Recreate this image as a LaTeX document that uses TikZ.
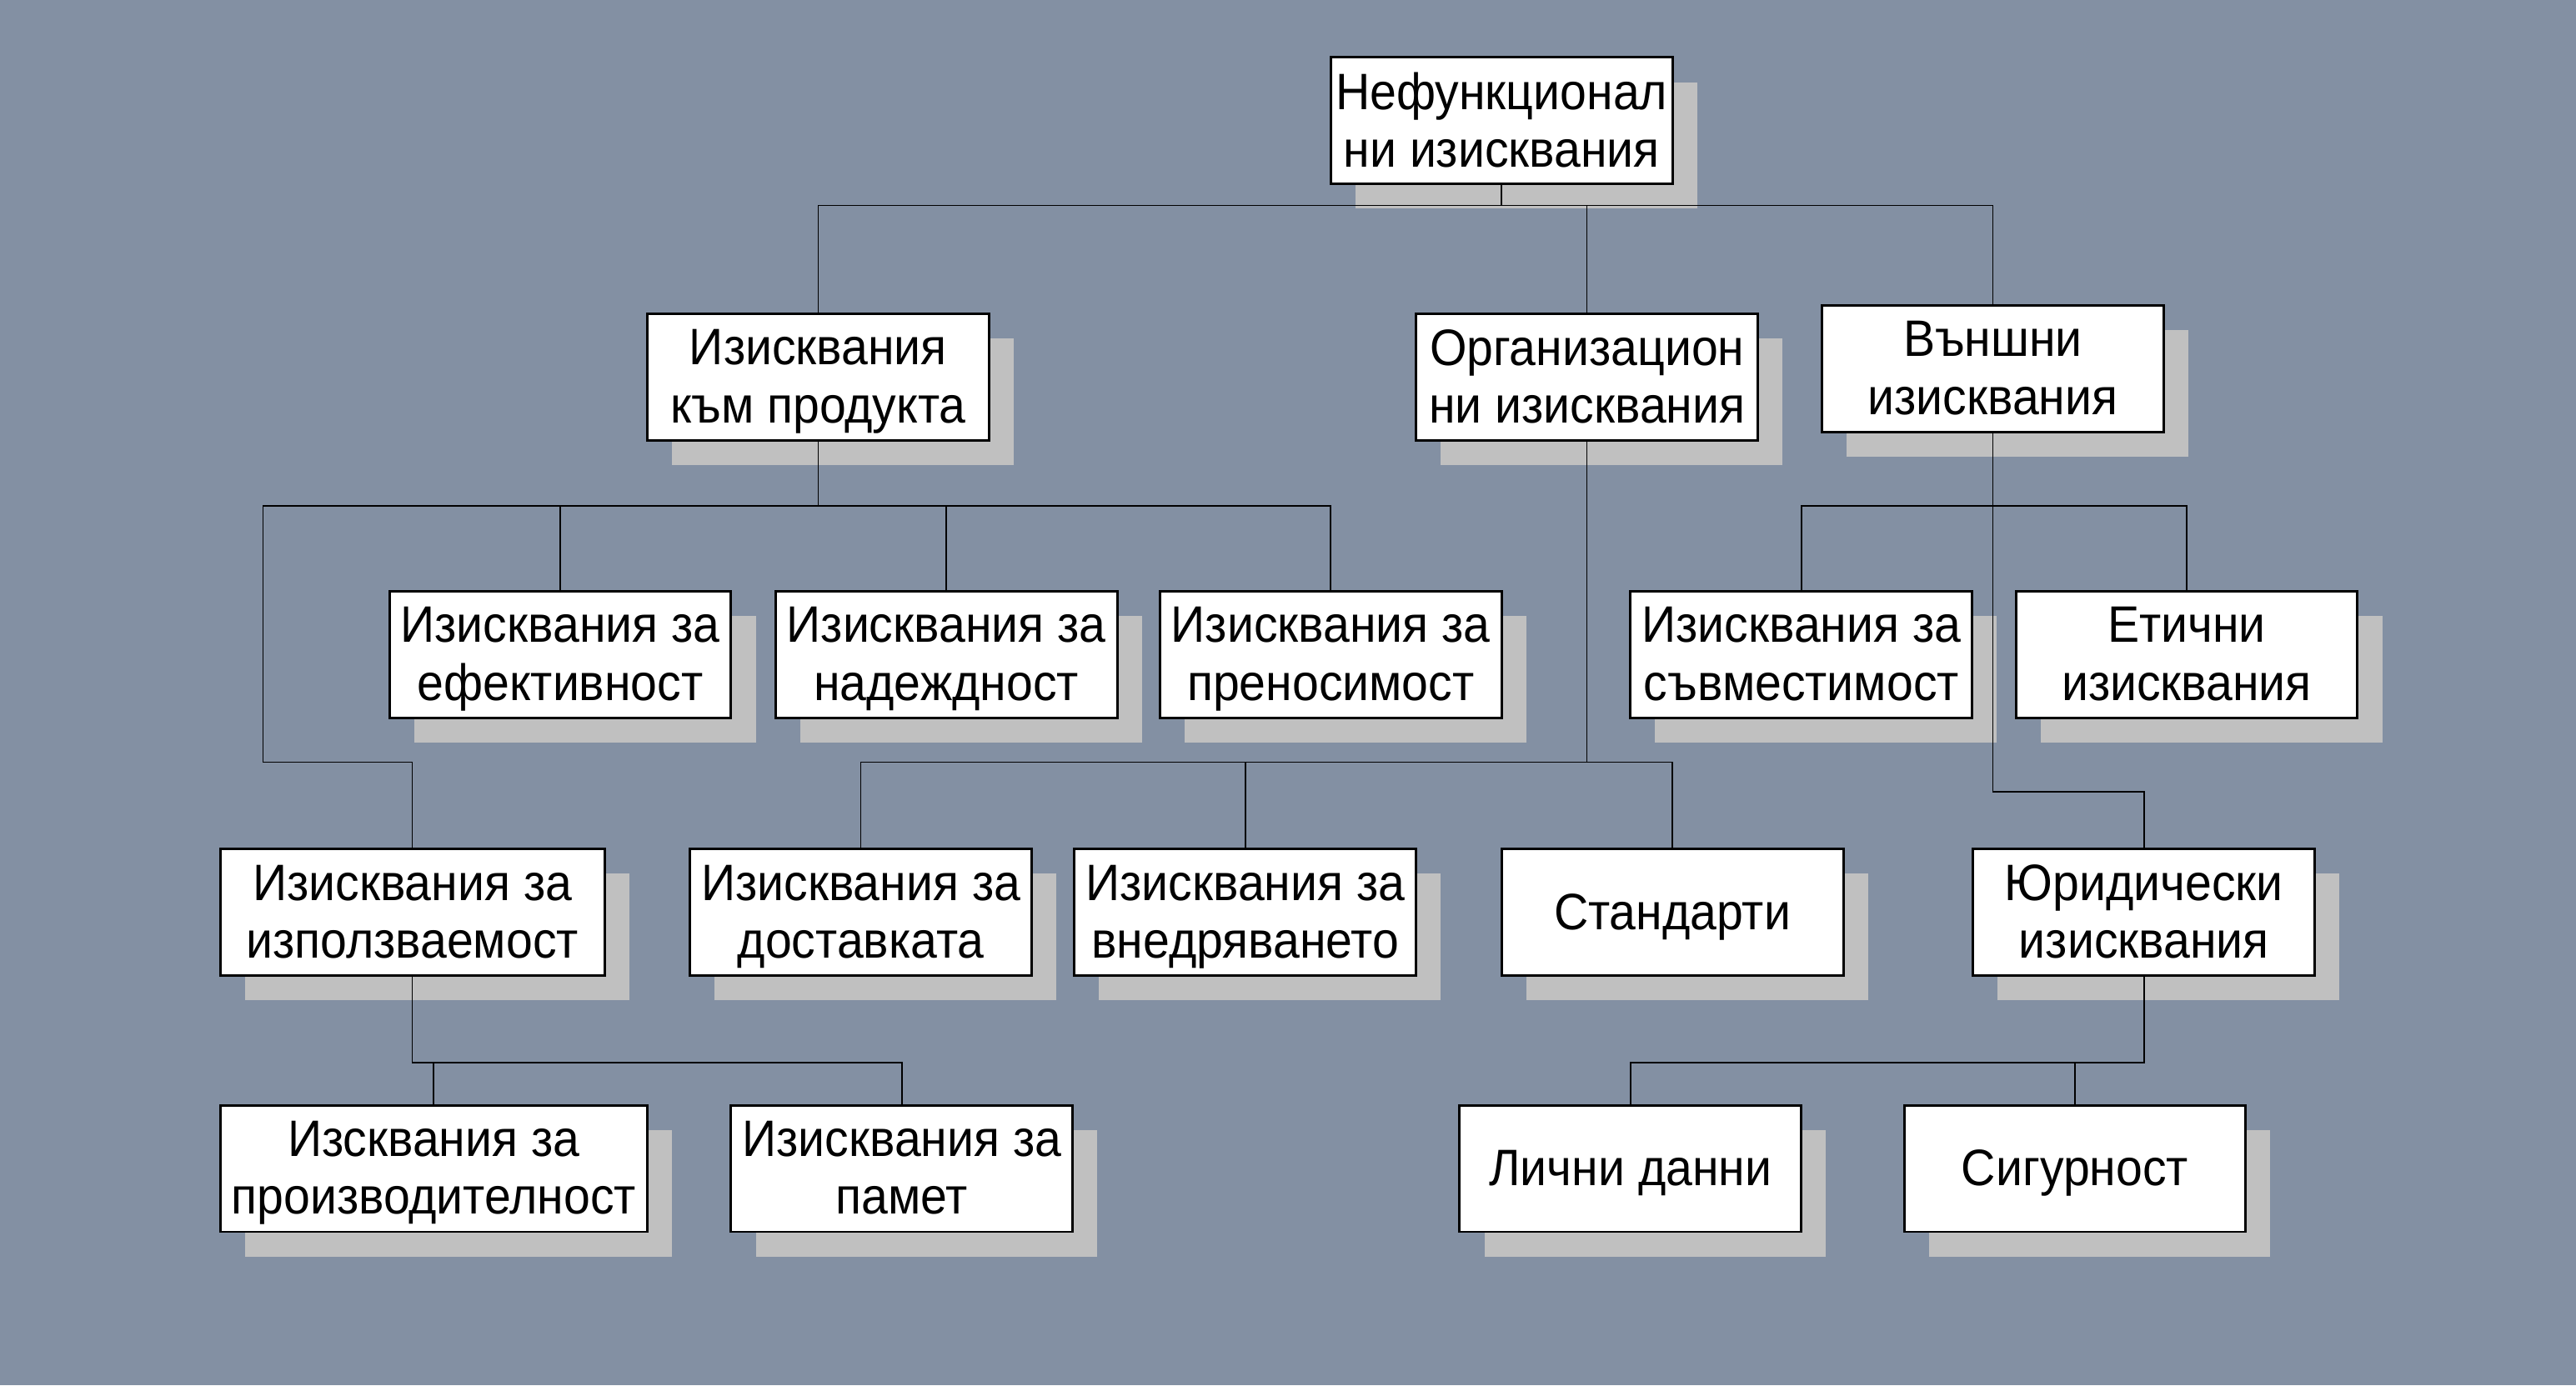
\documentclass[tikz,border=0pt]{standalone}
\usepackage{fontspec}
\setmainfont{Liberation Sans}[FakeStretch=0.93]
\usetikzlibrary{shadows}
\definecolor{bgc}{RGB}{131,144,163}
\definecolor{shadowc}{RGB}{192,192,192}
\tikzset{
  box/.style={draw=black, line width=0.75pt, fill=white, rectangle, inner sep=0pt,
    minimum width=104pt, minimum height=38.5pt, align=center, text depth=0.5pt,
    font=\fontsize{15.6}{17.6}\selectfont,
    drop shadow={shadow xshift=7.5pt, shadow yshift=-7.5pt, fill=shadowc, opacity=1}},
  conn/.style={draw=black, line width=0.4pt}
}
\begin{document}
\begin{tikzpicture}[x=0.5pt,y=-0.5pt]
\useasboundingbox (0,0) rectangle (1568,843.4);
\fill[bgc] (0,0) rectangle (1568,843.4);
% nodes
\node[box] (root) at (914,73.5) {Нефункционал\\ни изисквания};
\node[box] (b2) at (498,229.5) {Изисквания\\към продукта};
\node[box] (b3) at (966,229.5) {Организацион\\ни изисквания};
\node[box] (b4) at (1213,224.5) {Външни\\изисквания};
\node[box] (b5) at (341,398.5) {Изисквания за\\ефективност};
\node[box] (b6) at (576,398.5) {Изисквания за\\надеждност};
\node[box] (b7) at (810,398.5) {Изисквания за\\преносимост};
\node[box] (b8) at (1096.5,398.5) {Изисквания за\\съвместимост};
\node[box] (b9) at (1331,398.5) {Етични\\изисквания};
\node[box, minimum width=117pt] (b10) at (251,555.5) {Изисквания за\\използваемост};
\node[box] (b11) at (524,555.5) {Изисквания за\\доставката};
\node[box] (b12) at (758,555.5) {Изисквания за\\внедряването};
\node[box] (b13) at (1018,555.5) {Стандарти};
\node[box] (b14) at (1305,555.5) {Юридически\\изисквания};
\node[box, minimum width=130pt] (b15) at (264,711.5) {Изсквания за\\производителност};
\node[box] (b16) at (549,711.5) {Изисквания за\\памет};
\node[box] (b17) at (992.5,711.5) {Лични данни};
\node[box] (b18) at (1263,711.5) {Сигурност};
% bus coordinates
\coordinate (h1) at (0,125);
\coordinate (h2) at (0,308);
\coordinate (h3) at (0,464);
\coordinate (h4) at (0,482);
\coordinate (h5) at (0,647);
\coordinate (k1) at (160,308);
\coordinate (k2) at (160,464);
% connectors
\draw[conn] (root.south) -- (root.south|-h1);
\draw[conn] (b2.north) |- (b4.north|-h1) -- (b4.north);
\draw[conn] (b3.north) -- (b3.north|-h1);
\draw[conn] (b2.south) -- (b2.south|-h2);
\draw[conn] (b7.north) |- (k1) -- (k2) -| (b10.north);
\draw[conn] (b5.north) -- (b5.north|-h2);
\draw[conn] (b6.north) -- (b6.north|-h2);
\draw[conn] (b3.south) -- (b3.south|-h3);
\draw[conn] (b11.north) |- (b13.north|-h3) -- (b13.north);
\draw[conn] (b12.north) -- (b12.north|-h3);
\draw[conn] (b8.north) |- (b9.north|-h2) -- (b9.north);
\draw[conn] (b4.south) -- (b4.south|-h4) -| (b14.north);
\draw[conn] (b10.south) |- (b16.north|-h5) -- (b16.north);
\draw[conn] (b15.north) -- (b15.north|-h5);
\draw[conn] (b14.south) |- (b17.north|-h5) -- (b17.north);
\draw[conn] (b18.north) -- (b18.north|-h5);
\end{tikzpicture}
\end{document}
